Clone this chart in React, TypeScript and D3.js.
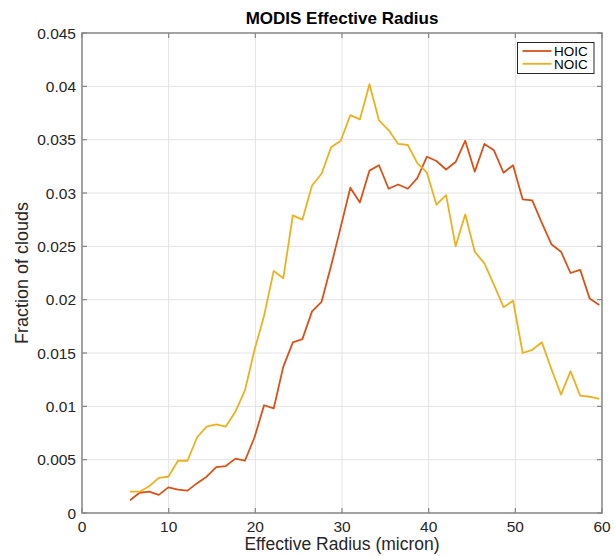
import React from "react";
import * as d3 from "d3";

const radius = [5.54, 6.65, 7.75, 8.86, 9.96, 11.07, 12.17, 13.28, 14.38, 15.49, 16.59, 17.7, 18.8, 19.91, 21.01, 22.12, 23.22, 24.33, 25.43, 26.54, 27.64, 28.75, 29.85, 30.96, 32.06, 33.17, 34.27, 35.38, 36.48, 37.59, 38.69, 39.8, 40.9, 42.01, 43.11, 44.22, 45.32, 46.43, 47.53, 48.64, 49.74, 50.85, 51.95, 53.06, 54.16, 55.27, 56.37, 57.48, 58.58, 59.69];

const hoic = [0.0012, 0.0019, 0.002, 0.0017, 0.0024, 0.0022, 0.0021, 0.0028, 0.0034, 0.0043, 0.0044, 0.0051, 0.0049, 0.0071, 0.0101, 0.0098, 0.0137, 0.016, 0.0163, 0.0189, 0.0198, 0.0232, 0.0268, 0.0305, 0.0291, 0.0321, 0.0326, 0.0304, 0.0308, 0.0304, 0.0314, 0.0334, 0.033, 0.0322, 0.0329, 0.0349, 0.032, 0.0346, 0.034, 0.0319, 0.0326, 0.0294, 0.0293, 0.0272, 0.0252, 0.0245, 0.0225, 0.0228, 0.0201, 0.0195];

const noic = [0.002, 0.002, 0.0025, 0.0033, 0.0034, 0.0049, 0.0049, 0.0071, 0.0081, 0.0083, 0.0081, 0.0095, 0.0115, 0.0153, 0.0185, 0.0227, 0.022, 0.0279, 0.0275, 0.0307, 0.0318, 0.0343, 0.0349, 0.0373, 0.0369, 0.0402, 0.0368, 0.0359, 0.0346, 0.0345, 0.0328, 0.0319, 0.0289, 0.0298, 0.025, 0.028, 0.0245, 0.0234, 0.0214, 0.0193, 0.0199, 0.015, 0.0153, 0.016, 0.0135, 0.0111, 0.0133, 0.011, 0.0109, 0.0107];

const xTicks = [0, 10, 20, 30, 40, 50, 60];
const yTicks = [0, 0.005, 0.01, 0.015, 0.02, 0.025, 0.03, 0.035, 0.04, 0.045];
const yTickLabels = ["0", "0.005", "0.01", "0.015", "0.02", "0.025", "0.03", "0.035", "0.04", "0.045"];

const seriesNames = ["HOIC", "NOIC"];
const seriesColors = ["#D95319", "#EDB120"];

const W = 615, H = 556;
const L = 82, R = 602, T = 33, B = 513;
const FONT = "'Liberation Sans', Arial, Helvetica, sans-serif";

export default function App() {
  const x = d3.scaleLinear().domain([0, 60]).range([L, R]);
  const y = d3.scaleLinear().domain([0, 0.045]).range([B, T]);
  const line = (vals: number[]) =>
    d3.line<number>().x((_, i) => x(radius[i])).y((v) => y(v))(vals) || "";
  const series = [hoic, noic];
  const axisColor = "#858585";
  const tickLen = 5;
  return (
    <svg width={W} height={H} style={{ position: "absolute", left: 0, top: 0, background: "#fff" }} fontFamily={FONT}>
      {xTicks.slice(1, -1).map((t) => (
        <line key={"gx" + t} x1={x(t)} x2={x(t)} y1={T} y2={B} stroke="#e3e3e3" strokeWidth={1} />
      ))}
      {yTicks.slice(1, -1).map((t) => (
        <line key={"gy" + t} x1={L} x2={R} y1={y(t)} y2={y(t)} stroke="#e3e3e3" strokeWidth={1} />
      ))}
      {series.map((s, k) => (
        <path key={k} d={line(s)} fill="none" stroke={seriesColors[k]} strokeWidth={1.8} strokeLinejoin="round" />
      ))}
      <rect x={L} y={T} width={R - L} height={B - T} fill="none" stroke={axisColor} strokeWidth={1.5} />
      {xTicks.map((t) => (
        <g key={"tx" + t}>
          <line x1={x(t)} x2={x(t)} y1={B} y2={B - tickLen} stroke={axisColor} strokeWidth={1.2} />
          <line x1={x(t)} x2={x(t)} y1={T} y2={T + tickLen} stroke={axisColor} strokeWidth={1.2} />
          <text x={x(t)} y={B + 18.5} textAnchor="middle" fontSize={15.5} fill="#262626">{t}</text>
        </g>
      ))}
      {yTicks.map((t, i) => (
        <g key={"ty" + t}>
          <line x1={L} x2={L + tickLen} y1={y(t)} y2={y(t)} stroke={axisColor} strokeWidth={1.2} />
          <line x1={R} x2={R - tickLen} y1={y(t)} y2={y(t)} stroke={axisColor} strokeWidth={1.2} />
          <text x={L - 6} y={y(t) + 5.5} textAnchor="end" fontSize={15.5} fill="#262626">{yTickLabels[i]}</text>
        </g>
      ))}
      <text x={(L + R) / 2} y={24} textAnchor="middle" fontSize={17} fontWeight="bold" fill="#000">MODIS Effective Radius</text>
      <text x={(L + R) / 2} y={550} textAnchor="middle" fontSize={17.5} fill="#262626">Effective Radius (micron)</text>
      <text transform={`translate(28, ${(T + B) / 2}) rotate(-90)`} textAnchor="middle" fontSize={18} fill="#262626">Fraction of clouds</text>
      <g>
        <rect x={517.5} y={42.5} width={76.5} height={31} fill="#fff" stroke="#262626" strokeWidth={1} />
        {seriesNames.map((n, k) => (
          <g key={n}>
            <line x1={522.5} x2={551.5} y1={51 + k * 12.8} y2={51 + k * 12.8} stroke={seriesColors[k]} strokeWidth={1.8} />
            <text x={554} y={55.8 + k * 12.8} fontSize={13.5} fill="#000">{n}</text>
          </g>
        ))}
      </g>
    </svg>
  );
}
